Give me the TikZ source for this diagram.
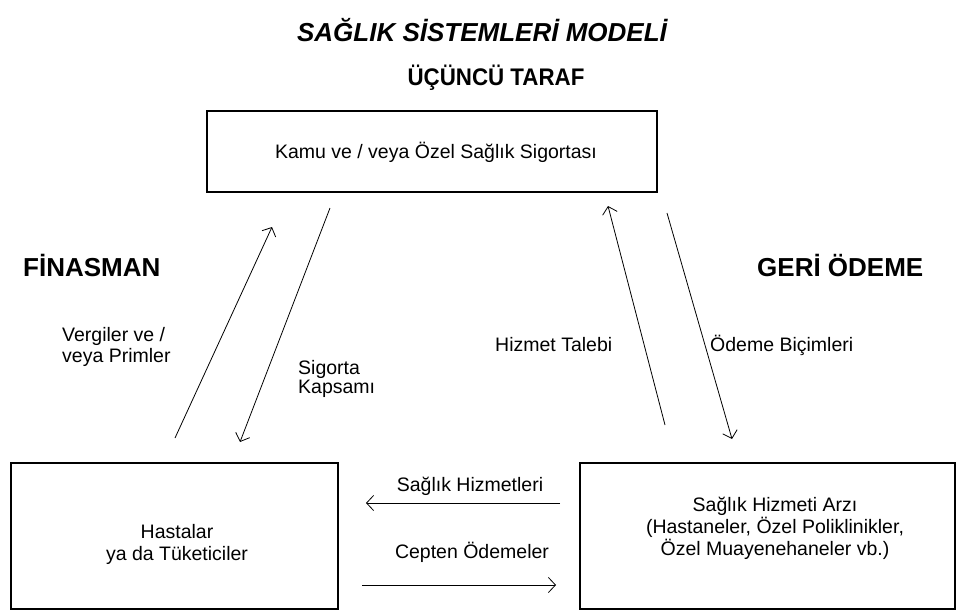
\documentclass[tikz,border=0pt]{standalone}
\usepackage{fontspec}
\usepackage{graphicx}
\setmainfont{Liberation Sans}
\usetikzlibrary{arrows.meta}
\begin{document}
\begin{tikzpicture}[x=1pt,y=-1pt,
  >={Straight Barb[length=7pt,width=15pt]},
  box/.style={draw, line width=1.1pt, inner sep=0pt},
  txt/.style={font=\fontsize{19.5}{22}\selectfont, inner sep=0pt},
  head/.style={font=\bfseries\fontsize{26}{30}\selectfont, inner sep=0pt},
  flow/.style={line width=0.8pt, ->}]
\useasboundingbox (0,0) rectangle (963,610);
% titles
\node[head, font=\bfseries\itshape\fontsize{26}{30}\selectfont] (title) at (482,30) {SAĞLIK SİSTEMLERİ MODELİ};
\node[head, font=\bfseries\fontsize{24}{28}\selectfont] (third) at (496,78) {\scalebox{0.93}[1]{ÜÇÜNCÜ TARAF}};
\node[head, anchor=west] (fin) at (23,265) {FİNASMAN};
\node[head, anchor=west] (geri) at (757,265) {GERİ ÖDEME};
% boxes
\node[box, minimum width=450pt, minimum height=81pt] (ins) at (432,151.5) {};
\node[txt, anchor=base] (inst) at (436,158) {Kamu ve / veya Özel Sağlık Sigortası};
\node[box, minimum width=327pt, minimum height=146pt] (pat) at (174.5,536) {};
\node[txt, anchor=base] (pat1) at (177,538) {Hastalar};
\node[txt, anchor=base] (pat2) at (177,560) {ya da Tüketiciler};
\node[box, minimum width=375pt, minimum height=146pt] (prov) at (767.5,536) {};
\node[txt, anchor=base] (prov1) at (775,511) {Sağlık Hizmeti Arzı};
\node[txt, anchor=base] (prov2) at (775,533) {(Hastaneler, Özel Poliklinikler,};
\node[txt, anchor=base] (prov3) at (775,555) {Özel Muayenehaneler vb.)};
% arrow end points
\coordinate (a1s) at (175,438); \coordinate (a1e) at (272,227);
\coordinate (a2s) at (330,208); \coordinate (a2e) at (240,442);
\coordinate (a3s) at (665,425); \coordinate (a3e) at (608,206);
\coordinate (a4s) at (667,213); \coordinate (a4e) at (732,439);
\coordinate (h1s) at (560,503); \coordinate (h1e) at (366,503);
\coordinate (h2s) at (362,585); \coordinate (h2e) at (556,585);
% flows
\draw[flow] (a1s) -- (a1e);
\draw[flow] (a2s) -- (a2e);
\draw[flow] (a3s) -- (a3e);
\draw[flow] (a4s) -- (a4e);
\draw[flow] (h1s) -- (h1e);
\draw[flow] (h2s) -- (h2e);
% flow labels
\node[txt, anchor=base west] (l1a) at (62,341) {Vergiler ve /};
\node[txt, anchor=base west] (l1b) at (62,362) {veya Primler};
\node[txt, anchor=base west] (l2a) at (298,374) {Sigorta};
\node[txt, anchor=base west] (l2b) at (298,393) {Kapsamı};
\node[txt, anchor=base west] (l3) at (495,351) {Hizmet Talebi};
\node[txt, anchor=base west] (l4) at (710,351) {Ödeme Biçimleri};
\node[txt, anchor=base] (l5) at (470,491) {Sağlık Hizmetleri};
\node[txt, anchor=base] (l6) at (472,558) {Cepten Ödemeler};
\end{tikzpicture}
\end{document}
